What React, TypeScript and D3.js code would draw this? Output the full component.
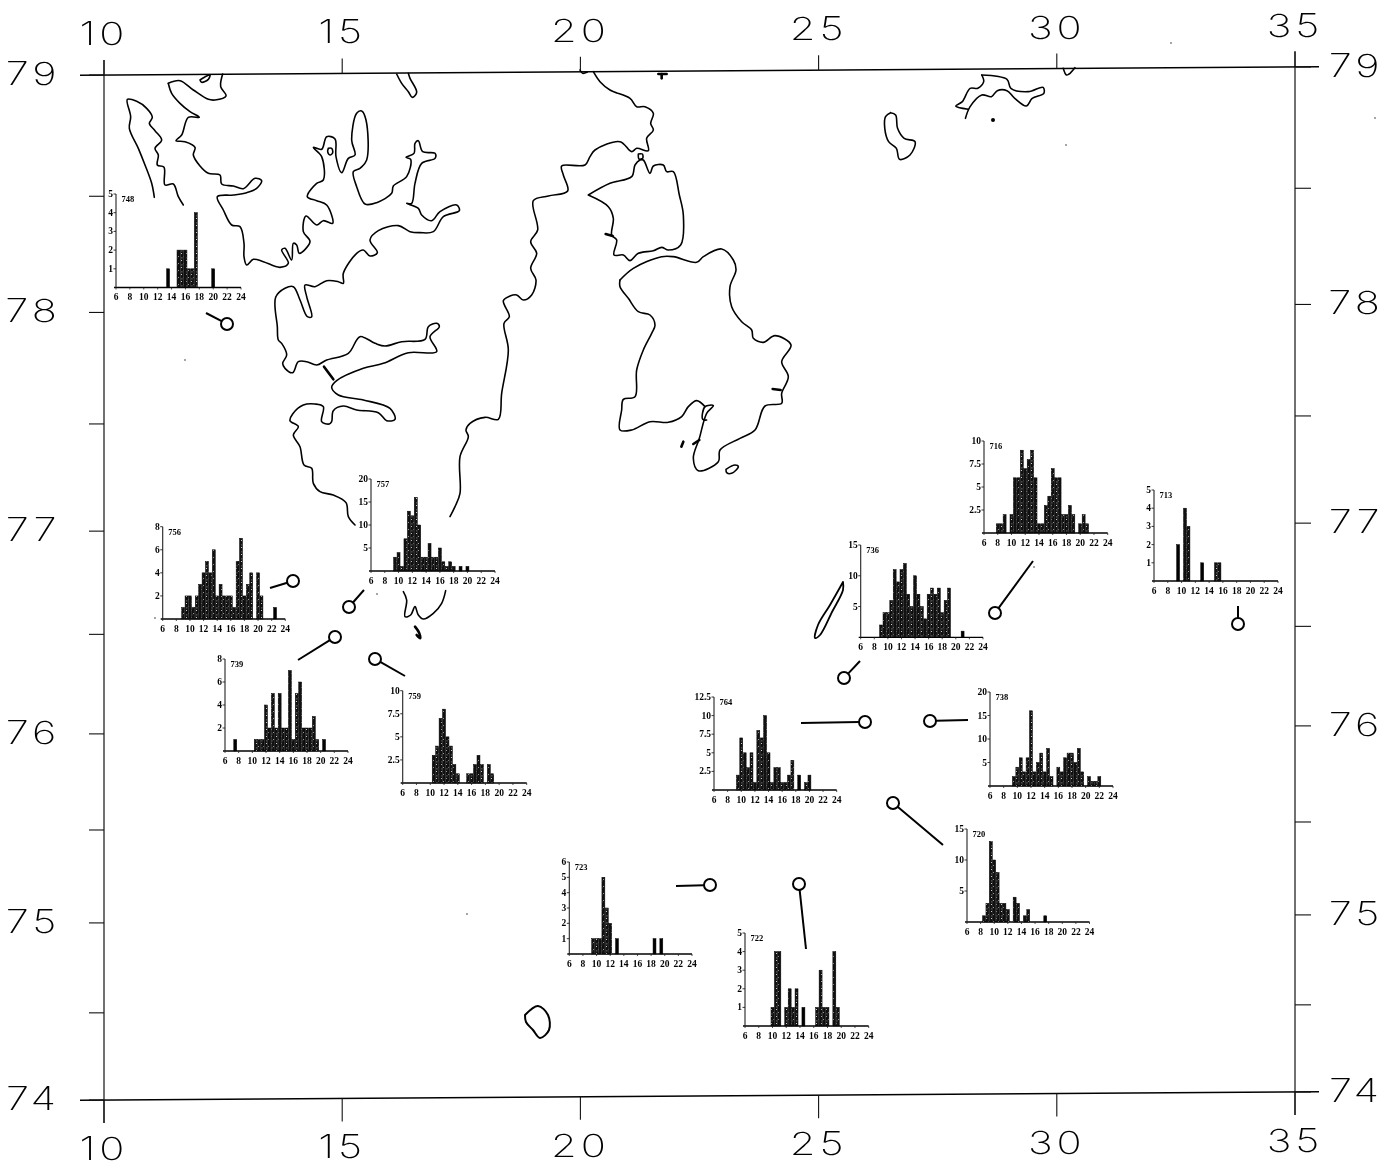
import React from "react";
import * as d3 from "d3";

type Pt = [number, number];
type Bin = [number, number];

// ---- graticule values
const lonTicks = [10, 15, 20, 25, 30, 35];
const latMajor = [74, 75, 76, 77, 78, 79];
const latMinor = [74.5, 75.5, 76.5, 77.5, 78.5];

// ---- length histograms per station: [length bin, count]
const st748: Bin[] = [[13.5,1],[15,2],[15.5,2],[16,2],[16.5,1],[17,1],[17.5,4],[20,1]];
const st756: Bin[] = [[9,1],[9.5,2],[10,2],[10.5,1],[11,2],[11.5,3],[12,4],[12.5,5],[13,4],[13.5,6],[14,2],[14.5,3],[15,2],[15.5,2],[16,2],[16.5,1],[17,5],[17.5,7],[18,2],[18.5,3],[19,4],[20,4],[20.5,2],[22.5,1]];
const st757: Bin[] = [[9.5,3],[10,4],[10.5,1],[11,7],[11.5,13],[12,12],[12.5,16],[13,10],[13.5,3],[14,3],[14.5,6],[15,3],[15.5,3],[16,5],[16.5,2],[17,1],[17.5,2],[18,1],[19,1],[20,1]];
const st739: Bin[] = [[7.5,1],[10.5,1],[11,1],[11.5,1],[12,4],[12.5,2],[13,5],[13.5,2],[14,5],[14.5,2],[15,2],[15.5,7],[16,1],[16.5,5],[17,6],[17.5,2],[18,2],[18.5,2],[19,3],[19.5,1],[20.5,1]];
const st759: Bin[] = [[10.5,3],[11,4],[11.5,7],[12,8],[12.5,5],[13,4],[13.5,2],[14,1],[15.5,1],[16,1],[16.5,2],[17,3],[17.5,2],[18.5,2],[19,1]];
const st716: Bin[] = [[8,1],[8.5,1],[9,2],[10,2],[10.5,6],[11,6],[11.5,9],[12,7],[12.5,8],[13,9],[13.5,6],[14,1],[14.5,1],[15,3],[15.5,4],[16,7],[16.5,6],[17,6],[17.5,2],[18,2],[18.5,3],[19,2],[20,1],[20.5,2],[21,1]];
const st736: Bin[] = [[9,2],[9.5,4],[10,4],[10.5,6],[11,11],[11.5,9],[12,11],[12.5,12],[13,7],[13.5,5],[14,10],[14.5,7],[15,5],[15.5,3],[16,7],[16.5,8],[17,7],[17.5,8],[18,4],[18.5,6],[19,8],[21,1]];
const st764: Bin[] = [[9.5,2],[10,7],[10.5,5],[11,3],[11.5,5],[12,1],[12.5,8],[13,7],[13.5,10],[14,5],[14.5,1],[15,3],[15.5,3],[16,1],[16.5,1],[17,2],[17.5,4],[18.5,2],[19.5,1],[20,2]];
const st738: Bin[] = [[9.5,2],[10,4],[10.5,6],[11,3],[11.5,6],[12,16],[12.5,3],[13,5],[13.5,7],[14,3],[14.5,8],[15,2],[16,4],[16.5,3],[17,6],[17.5,7],[18,7],[18.5,5],[19,8],[19.5,3],[20.5,2],[21,1],[21.5,1],[22,2]];
const st723: Bin[] = [[9.5,1],[10,1],[10.5,1],[11,5],[11.5,3],[12,2],[13,1],[18.5,1],[19.5,1]];
const st722: Bin[] = [[10,1],[10.5,4],[11,4],[12,1],[12.5,2],[13,1],[13.5,2],[14.5,1],[16.5,1],[17,3],[17.5,1],[18,1],[19,4],[19.5,1]];
const st720: Bin[] = [[8.5,1],[9,3],[9.5,13],[10,10],[10.5,8],[11,3],[11.5,3],[12,2],[13,4],[13.5,3],[14.5,1],[15,2],[17.5,1]];
const st713: Bin[] = [[9.5,2],[10.5,4],[11,3],[13,1],[15,1],[15.5,1]];

const lengthTicks = [6, 8, 10, 12, 14, 16, 18, 20, 22, 24];

// ---- inset placement: id, bins, y ticks, x of length 6, x of length 24, baseline, top, y max
const insets: { id: string; bins: Bin[]; ticks: number[]; x0: number; x1: number; y0: number; y1: number; max: number }[] = [
  { id: "748", bins: st748, ticks: [1,2,3,4,5], x0: 116, x1: 241, y0: 287.5, y1: 194, max: 5 },
  { id: "756", bins: st756, ticks: [2,4,6,8], x0: 162.7, x1: 285.3, y0: 619, y1: 526.7, max: 8 },
  { id: "757", bins: st757, ticks: [5,10,15,20], x0: 371, x1: 495, y0: 571, y1: 479, max: 20 },
  { id: "739", bins: st739, ticks: [2,4,6,8], x0: 225, x1: 348, y0: 751, y1: 659, max: 8 },
  { id: "759", bins: st759, ticks: [2.5,5,7.5,10], x0: 402.7, x1: 526.7, y0: 783, y1: 690.7, max: 10 },
  { id: "716", bins: st716, ticks: [2.5,5,7.5,10], x0: 984, x1: 1107.7, y0: 533, y1: 441, max: 10 },
  { id: "736", bins: st736, ticks: [5,10,15], x0: 860.7, x1: 983, y0: 637.3, y1: 545, max: 15 },
  { id: "764", bins: st764, ticks: [2.5,5,7.5,10,12.5], x0: 714, x1: 836.7, y0: 790, y1: 697, max: 12.5 },
  { id: "738", bins: st738, ticks: [5,10,15,20], x0: 990, x1: 1113, y0: 786, y1: 692, max: 20 },
  { id: "723", bins: st723, ticks: [1,2,3,4,5,6], x0: 569.3, x1: 692, y0: 954, y1: 862, max: 6 },
  { id: "722", bins: st722, ticks: [1,2,3,4,5], x0: 745, x1: 868.7, y0: 1026, y1: 933, max: 5 },
  { id: "720", bins: st720, ticks: [5,10,15], x0: 967, x1: 1089.5, y0: 922, y1: 829, max: 15 },
  { id: "713", bins: st713, ticks: [1,2,3,4,5], x0: 1154, x1: 1278, y0: 581, y1: 490, max: 5 },
];

// ---- station markers and leader lines: ring centre, leader end
const stationRings: Pt[] = [[227,324],[293,581],[349,607],[335,637],[375,659],[844,678],[995,613],[1238,624],[865,722],[930,721],[893,803],[710,885],[799,884]];
const leaderEnds: Pt[] = [[206,313],[270,588],[364,590],[298,660],[405,676],[860,661],[1033,561],[1238,606],[801,723],[968,720],[943,845],[676,886],[806,949]];

// ---- coastlines digitised on the west sheet
const westMain: Pt[] = [[205,70],[215,100],[240,130],[270,155],[298,172],[265,172],[245,225],[228,242],[255,245],[285,262],[280,285],[300,318],[325,340],[360,345],[365,372],[400,378],[430,386],[465,355],[485,362],[470,385],[440,398],[400,405],[352,410],[370,450],[395,495],[420,500],[432,550],[432,590],[440,615],[460,598],[490,605],[540,622],[565,610],[545,570],[555,565],[575,600],[580,550],[590,555],[598,580],[630,545],[610,515],[618,468],[650,495],[670,482],[698,490],[680,435],[650,422],[622,410],[650,370],[670,360],[665,290],[640,262],[665,268],[680,230],[705,237],[708,290],[725,338],[745,295],[765,285],[755,240],[770,160],[785,153],[798,180],[800,300],[780,325],[760,335],[770,380],[795,432],[830,428],[875,400],[880,378],[920,350],[932,298],[918,292],[942,280],[945,250],[955,242],[968,275],[1005,280],[1005,295],[965,310],[945,370],[935,430],[920,430],[955,445],[965,465],[995,482],[1020,455],[1070,435],[1078,452],[1030,470],[1000,515],[960,518],[930,515],[895,497],[835,512],[810,540],[832,578],[810,588],[790,570],[770,580],[730,640],[730,670],[715,665],[680,662],[645,680],[615,675],[620,710],[635,770],[622,770],[600,720],[580,680],[555,685],[527,712],[532,800],[535,840],[545,850],[560,885],[548,910],[555,925],[578,938],[595,905],[620,905],[650,915],[680,900],[745,880],[780,830],[825,850],[855,858],[905,845],[975,838],[985,800],[1010,790],[1018,800],[990,830],[1010,875],[925,878],[850,910],[790,925],[710,962],[695,982],[715,1005],[790,1020],[870,1045],[885,1078],[860,1082],[835,1058],[770,1050],[730,1038],[700,1052],[695,1085],[688,1092],[665,1085],[670,1040],[645,1032],[610,1035],[578,1062],[570,1082],[595,1100],[580,1125],[600,1160],[612,1215],[635,1225],[640,1270],[660,1295],[700,1305],[738,1328],[745,1370],[765,1395]];
const westPeninsula: Pt[] = [[163,412],[155,370],[135,315],[115,265],[88,205],[92,170],[82,118],[110,124],[140,145],[157,172],[148,190],[165,212],[185,240],[165,265],[175,285],[172,315],[192,322],[195,375],[220,372],[235,410],[250,435]];
const westTop: Pt[] = [[205,70],[240,62],[280,90],[325,118],[345,120],[378,108],[362,80],[368,42]];
const westTopLoop: Pt[] = [[300,60],[320,48],[330,45],[325,58],[305,67],[300,60]];
const westBlob: Pt[] = [[890,42],[905,70],[925,95],[937,112],[950,97],[930,55],[925,40]];
const westRing: Pt[] = [[685,265],[695,265],[698,278],[690,285],[683,275],[685,265]];
const westDash: Pt[] = [[672,920],[700,958]];

// ---- coastlines digitised on the east sheet
const eastSpine: Pt[] = [[30,1370],[45,1340],[60,1300],[60,1190],[85,1130],[78,1110],[90,1090],[135,1072],[175,1078],[185,1000],[205,870],[192,790],[208,770],[190,722],[210,708],[230,705],[250,720],[275,705],[288,660],[272,625],[290,580],[272,545],[293,510],[280,422],[325,408],[383,393],[370,345],[365,318],[435,315],[450,290],[465,270],[540,245],[575,275],[590,265],[625,272],[620,235],[640,210],[632,190],[640,160],[615,140],[590,140],[570,115],[510,90],[480,65],[460,35]];
const eastBay: Pt[] = [[445,405],[510,370],[575,350],[585,315],[600,300],[610,300],[630,340],[640,318],[670,315],[680,335],[700,335],[718,405],[730,465],[722,555],[685,570],[665,562],[640,572],[595,580],[570,602],[550,585],[522,585],[530,540],[515,525],[520,475],[505,440],[445,405]];
const eastBayRing: Pt[] = [[595,282],[607,282],[608,295],[597,297],[595,282]];
const eastLarge: Pt[] = [[540,660],[580,625],[665,590],[700,590],[770,607],[790,590],[845,567],[880,600],[888,630],[870,680],[875,740],[905,785],[935,810],[940,835],[970,847],[1005,827],[1053,855],[1025,905],[1045,950],[1025,1000],[1025,1030],[975,1038],[945,1110],[900,1135],[840,1170],[835,1205],[775,1232],[760,1195],[778,1135],[800,1060],[820,1037],[795,1040],[788,1078],[800,1080]];
const eastLargeWest: Pt[] = [[795,1040],[770,1022],[745,1040],[725,1070],[685,1087],[630,1085],[575,1110],[540,1110],[545,1050],[550,1018],[585,1010],[590,930],[610,870],[635,820],[645,795],[630,765],[595,755],[565,715],[540,680],[540,660]];
const eastIslet: Pt[] = [[858,1228],[885,1215],[895,1220],[875,1240],[860,1238],[858,1228]];
const eastTopIslet: Pt[] = [[420,30],[428,40],[442,36]];
const eastThick: Pt[][] = [[[497,522],[518,528]],[[724,1160],[730,1145]],[[760,1152],[778,1140]],[[998,987],[1022,990]],[[655,42],[680,42]],[[665,42],[665,55]]];

// ---- south cape sheet
const southCape: Pt[] = [[790,365],[800,390],[795,440],[812,435],[825,410],[835,435],[850,447],[880,430],[905,400],[917,362]];
const southBlob: Pt[] = [[825,470],[838,490],[840,505],[830,495]];

// ---- north-east sheet
const neIsland: Pt[] = [[520,225],[585,238],[595,265],[640,275],[678,262],[680,280],[650,295],[635,318],[605,295],[585,272],[560,272],[545,290],[520,285],[490,320],[478,355]];
const neIslandW: Pt[] = [[520,225],[525,245],[510,265],[490,265],[470,305],[453,318],[485,328]];
const neOval: Pt[] = [[285,338],[298,345],[303,385],[320,415],[348,425],[335,465],[308,478],[300,445],[280,425],[270,385],[272,350],[285,338]];
const neTop: Pt[] = [[730,205],[738,225],[745,222],[760,203]];

// ---- outlying islands, page units
const bearIsland: Pt[] = [[525,1015],[538,1006],[548,1015],[549,1030],[540,1038],[533,1030],[526,1022],[525,1015]];
const slimIsland: Pt[] = [[843,582],[830,605],[818,625],[815,638],[820,635],[832,612],[843,590],[843,582]];
const specks: Pt[] = [[185,360],[467,914],[377,594],[1171,43],[1066,145],[1034,567],[155,618],[1375,118]];

// ---- scales
const W = 1382, H = 1163;
const merc = (lat: number) => Math.log(Math.tan(Math.PI / 4 + (lat * Math.PI) / 360));
const lonX = d3.scaleLinear().domain([10, 35]).range([104, 1295]);
const latY = d3.scaleLinear().domain([merc(74), merc(79)]).range([1100, 75]);
const skew = d3.scaleLinear().domain([10, 35]).range([0, -8]);
const yAt = (lat: number, lon: number) => latY(merc(lat)) + skew(lon);

const sheet = (x0: number, y0: number, sx = 1 / 3, sy = 1 / 3) => {
  const xs = d3.scaleLinear().domain([0, 1]).range([x0, x0 + sx]);
  const ys = d3.scaleLinear().domain([0, 1]).range([y0, y0 + sy]);
  return (pts: Pt[], curve = true) =>
    d3.line<Pt>().x((p) => xs(p[0])).y((p) => ys(p[1])).curve(curve ? d3.curveCatmullRom.alpha(0.5) : d3.curveLinear)(pts) as string;
};
const west = sheet(100, 60);
const east = sheet(440, 60);
const south = sheet(140, 470);
const ne = sheet(780, 0, 0.388, 1 / 3);
const page = sheet(0, 0, 1, 1);

const frameFont: React.CSSProperties = { fontFamily: "Inter, 'Liberation Sans', sans-serif", fontWeight: 200, fontSize: 32, letterSpacing: 3 };
const insetFont: React.CSSProperties = { fontFamily: "'Liberation Serif', serif", fontWeight: 700, fontSize: 9.5 };

function FrameLabel({ x, y, v }: { x: number; y: number; v: number }) {
  return (
    <text transform={`translate(${x},${y}) scale(1.3,1)`} textAnchor="middle" style={frameFont}>
      {v}
    </text>
  );
}

function Inset({ d }: { d: (typeof insets)[number] }) {
  const x = d3.scaleLinear().domain([6, 24]).range([d.x0, d.x1]);
  const y = d3.scaleLinear().domain([0, d.max]).range([d.y0, d.y1]);
  const bw = x(6.43) - x(6);
  const solo = (v: number) => !d.bins.some((b) => Math.abs(b[0] - v) === 0.5);
  return (
    <g>
      <line x1={d.x0 - 2} x2={d.x1} y1={d.y0} y2={d.y0} stroke="#000" strokeWidth={1.3} />
      <line x1={d.x0} x2={d.x0} y1={d.y0} y2={d.y1} stroke="#222" strokeWidth={1.1} />
      {d.ticks.map((t) => (
        <g key={t}>
          <line x1={d.x0 - 2.5} x2={d.x0} y1={y(t)} y2={y(t)} stroke="#222" strokeWidth={0.9} />
          <text x={d.x0 - 3} y={y(t) + 3} textAnchor="end" style={insetFont}>{t}</text>
        </g>
      ))}
      {lengthTicks.map((t) => (
        <g key={t}>
          <line x1={x(t)} x2={x(t)} y1={d.y0} y2={d.y0 + 2} stroke="#222" strokeWidth={0.8} />
          <text x={x(t)} y={d.y0 + 12.5} textAnchor="middle" style={insetFont}>{t}</text>
        </g>
      ))}
      <text x={d.x0 + 5.5} y={d.y1 + 8} style={{ ...insetFont, fontSize: 8.5 }}>{d.id}</text>
      {d.bins.map((b) => (
        <rect
          key={b[0]}
          x={x(b[0]) - bw / 2}
          y={y(b[1])}
          width={bw}
          height={d.y0 - y(b[1])}
          fill={solo(b[0]) ? "#000" : "url(#speckle)"}
          stroke="#000"
          strokeWidth={0.5}
        />
      ))}
    </g>
  );
}

export default function App() {
  const coast = { fill: "none", stroke: "#000", strokeWidth: 1.6, strokeLinejoin: "round" as const, strokeLinecap: "round" as const };
  const thick = { ...coast, strokeWidth: 2.6 };
  const topY = (lon: number) => yAt(79, lon);
  const botY = (lon: number) => yAt(74, lon);
  return (
    <svg width={W} height={H} viewBox={`0 0 ${W} ${H}`} style={{ position: "absolute", left: 0, top: 0, display: "block", background: "#fff" }}>
      <defs>
        <pattern id="speckle" width="5" height="7" patternUnits="userSpaceOnUse">
          <rect width="5" height="7" fill="#111" />
          <rect x="1" y="1" width="1" height="1" fill="#ccc" />
          <rect x="3" y="4" width="1" height="1" fill="#999" />
          <rect x="1.5" y="5.5" width="0.8" height="0.8" fill="#eee" />
        </pattern>
      </defs>

      <g opacity={0.999}>
        {/* frame */}
        <line x1={lonX(10) - 24} x2={lonX(35) + 24} y1={topY(10) + 0.2} y2={topY(35) - 0.2} stroke="#000" strokeWidth={1.6} />
        <line x1={lonX(10) - 24} x2={lonX(35) + 24} y1={botY(10) + 0.2} y2={botY(35) - 0.2} stroke="#000" strokeWidth={1.6} />
        <line x1={lonX(10)} x2={lonX(10)} y1={60} y2={botY(10) + 23} stroke="#111" strokeWidth={1.2} />
        <line x1={lonX(35)} x2={lonX(35)} y1={51} y2={botY(35) + 23} stroke="#111" strokeWidth={1.2} />
        {lonTicks.map((t) => (
          <g key={t}>
            <line x1={lonX(t)} x2={lonX(t)} y1={topY(t) - 15} y2={topY(t)} stroke="#111" strokeWidth={1.1} />
            <line x1={lonX(t)} x2={lonX(t)} y1={botY(t)} y2={botY(t) + 23} stroke="#111" strokeWidth={1.1} />
            <FrameLabel x={lonX(t)} y={topY(t) - 30} v={t} />
            <FrameLabel x={lonX(t)} y={botY(t) + 60} v={t} />
          </g>
        ))}
        {[...latMajor, ...latMinor].map((t) => (
          <g key={t}>
            <line x1={lonX(10) - 15} x2={lonX(10)} y1={yAt(t, 10)} y2={yAt(t, 10)} stroke="#111" strokeWidth={1.1} />
            <line x1={lonX(35)} x2={lonX(35) + 16} y1={yAt(t, 35)} y2={yAt(t, 35)} stroke="#111" strokeWidth={1.1} />
          </g>
        ))}
        {latMajor.map((t) => (
          <g key={t}>
            <FrameLabel x={33} y={yAt(t, 10) + 10} v={t} />
            <FrameLabel x={1356} y={yAt(t, 35) + 10} v={t} />
          </g>
        ))}

        {/* coast */}
        {[westMain, westPeninsula, westTop, westTopLoop, westBlob, westRing].map((p, i) => (
          <path key={"w" + i} d={west(p)} {...coast} />
        ))}
        <path d={west(westDash, false)} {...thick} />
        {[eastSpine, eastBay, eastBayRing, eastLarge, eastLargeWest, eastIslet, eastTopIslet].map((p, i) => (
          <path key={"e" + i} d={east(p)} {...coast} />
        ))}
        {eastThick.map((p, i) => (
          <path key={"t" + i} d={east(p, false)} {...thick} />
        ))}
        <path d={south(southCape)} {...coast} />
        <path d={south(southBlob)} {...thick} />
        {[neIsland, neIslandW, neOval, neTop].map((p, i) => (
          <path key={"n" + i} d={ne(p)} {...coast} />
        ))}
        <path d={page(bearIsland)} {...coast} strokeWidth={2} />
        <path d={page(slimIsland)} {...coast} strokeWidth={1.8} />
        {specks.map((p, i) => (
          <circle key={i} cx={p[0]} cy={p[1]} r={0.8} fill="#333" />
        ))}
        <circle cx={993} cy={120} r={2} fill="#000" />

        {/* stations */}
        {stationRings.map((c, i) => {
          const e = leaderEnds[i];
          const a = Math.atan2(e[1] - c[1], e[0] - c[0]);
          return (
            <g key={i}>
              <line x1={c[0] + 6 * Math.cos(a)} y1={c[1] + 6 * Math.sin(a)} x2={e[0]} y2={e[1]} stroke="#000" strokeWidth={2} />
              <circle cx={c[0]} cy={c[1]} r={6} fill="#fff" stroke="#000" strokeWidth={2} />
            </g>
          );
        })}

        {/* histograms */}
        {insets.map((d) => (
          <Inset key={d.id} d={d} />
        ))}
      </g>
    </svg>
  );
}
